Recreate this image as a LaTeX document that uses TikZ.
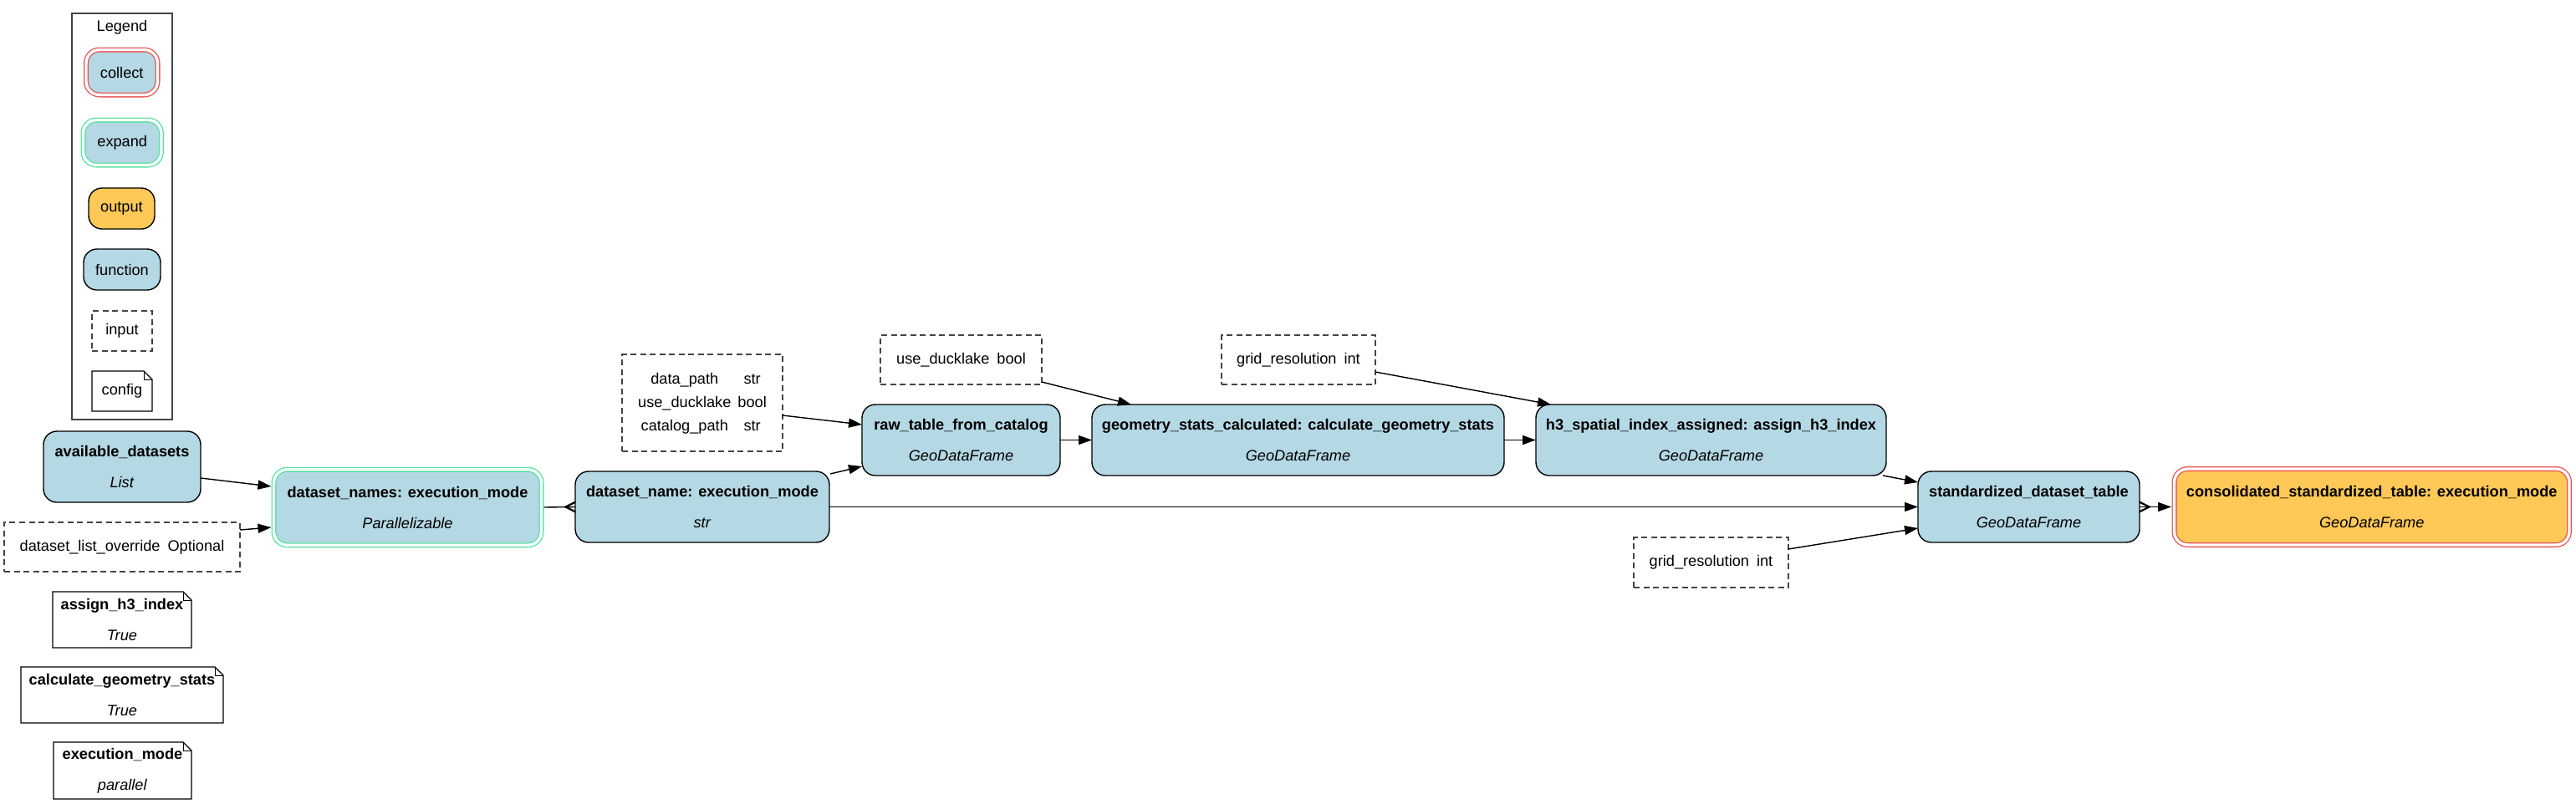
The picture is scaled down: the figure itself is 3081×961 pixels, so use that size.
\documentclass[tikz,border=0pt]{standalone}
\usepackage{fontspec}
\setmainfont{Liberation Sans}
\usetikzlibrary{arrows.meta,calc}
\definecolor{fnblue}{HTML}{B4D8E4}
\definecolor{outorange}{HTML}{FFC857}
\definecolor{colred}{HTML}{EA5556}
\definecolor{expgreen}{HTML}{56E39F}
\definecolor{framegray}{HTML}{444444}
\newcommand\cfgoutline[1]{%
  \draw[line width=1.3pt, line join=miter] (#1.south west) -- (#1.south east) -- ($(#1.north east)+(0,10)$) -- ($(#1.north east)+(-10,0)$) -- (#1.north west) -- cycle;
  \draw[line width=1pt] ($(#1.north east)+(-10,0)$) -- ($(#1.north east)+(-10,10)$) -- ($(#1.north east)+(0,10)$);}
\begin{document}
\begin{tikzpicture}[x=1pt,y=-1pt,
  every node/.style={font=\fontsize{18.2}{37}\selectfont, inner sep=0pt, outer sep=0pt, align=center},
  box/.style 2 args={minimum width=#1pt, minimum height=#2pt},
  fn/.style={draw=black, line width=1.4pt, fill=fnblue, rounded corners=16pt},
  outp/.style={fn, fill=outorange},
  expandnode/.style={fn, draw=expgreen, double=white, double distance=3.4pt, line width=1.3pt},
  collectnode/.style={fn, draw=colred, double=white, double distance=3.4pt, line width=1.3pt},
  inp/.style={draw=framegray, line width=1.2pt, dash pattern=on 7pt off 4.5pt},
  arr/.style={-{Triangle[length=16pt,width=11pt]}, line width=1.4pt},
]
\fill[white] (0,0) rectangle (3081,961);
\useasboundingbox (0,0) rectangle (3081,961);

% Legend
\node[draw=framegray, line width=1.3pt, box={120}{486}] (legend) at (146,259) {};
\node (legendtitle) at (146,33) {Legend};
\node[collectnode, box={85.5}{54}] (lgcollect) at (145.75,86.5) {collect};
\node[expandnode, box={93.5}{54}] (lgexpand) at (146.25,170.5) {expand};
\node[outp, box={79}{49}] (lgoutput) at (145.5,249.5) {output};
\node[fn, box={92}{49}] (lgfunction) at (146,322.5) {function};
\node[inp, box={72}{48}] (lginput) at (146,396) {input};
\node[box={72}{48}] (lgconfig) at (146,468) {config};
\cfgoutline{lgconfig}

% Left column
\node[fn, box={188}{85}] (avail) at (146,558.5) {\textbf{available\_datasets}\\\textit{List}};
\node[inp, box={282}{59}] (override) at (146,654.5) {dataset\_list\_override\hspace{9pt}Optional};
\node[box={166}{67}] (cfgh3) at (146,741.5) {\textbf{assign\_h3\_index}\\\textit{True}};
\cfgoutline{cfgh3}
\node[box={242}{67}] (cfggeo) at (146,831.5) {\textbf{calculate\_geometry\_stats}\\\textit{True}};
\cfgoutline{cfggeo}
\node[box={165}{68}] (cfgexec) at (146.5,922) {\textbf{execution\_mode}\\\textit{parallel}};
\cfgoutline{cfgexec}

% Main chain
\node[expandnode, box={320}{90.5}] (dsnames) at (487.5,607) {\textbf{dataset\_names: execution\_mode}\\\textit{Parallelizable}};
\node[fn, box={304}{85}] (dsname) at (840,606.5) {\textbf{dataset\_name: execution\_mode}\\\textit{str}};
\node[inp, box={192}{116}] (datapath) at (840,482) {\fontsize{18.2}{28}\selectfont\begin{tabular}{@{}c@{\hspace{8pt}}c@{}}data\_path & str\\ use\_ducklake & bool\\ catalog\_path & str\end{tabular}};
\node[inp, box={193}{59}] (usedl) at (1149.5,430.5) {use\_ducklake\hspace{9pt}bool};
\node[fn, box={237}{85}] (raw) at (1149.5,526.5) {\textbf{raw\_table\_from\_catalog}\\\textit{GeoDataFrame}};
\node[fn, box={493}{85}] (geo) at (1552.5,526.5) {\textbf{geometry\_stats\_calculated: calculate\_geometry\_stats}\\\textit{GeoDataFrame}};
\node[inp, box={184}{59}] (grida) at (1553,430.5) {grid\_resolution\hspace{9pt}int};
\node[fn, box={419}{85}] (h3) at (2046.5,526.5) {\textbf{h3\_spatial\_index\_assigned: assign\_h3\_index}\\\textit{GeoDataFrame}};
\node[fn, box={265}{85}] (std) at (2426.5,606.5) {\textbf{standardized\_dataset\_table}\\\textit{GeoDataFrame}};
\node[inp, box={185}{60}] (gridb) at (2046.5,673) {grid\_resolution\hspace{9pt}int};
\node[collectnode, fill=outorange, box={472.5}{91}] (cons) at (2836.75,606.5) {\textbf{consolidated\_standardized\_table: execution\_mode}\\\textit{GeoDataFrame}};

% Edges
\draw[arr] ($(avail.east)+(0,13.5)$) -- ($(dsnames.west)+(-3,-25)$);
\draw[arr] ($(override.north east)+(0,9)$) -- ($(dsnames.west)+(-3,24)$);
\draw[line width=1.4pt] ($(dsnames.east)+(3,0)$) -- (dsname.west);
\fill ($(dsname.west)+(-14,0)$) -- ($(dsname.west)+(0,-7)$) -- ($(dsname.west)+(0,-4.5)$) -- ($(dsname.west)+(-9,0)$) -- ($(dsname.west)+(0,4.5)$) -- ($(dsname.west)+(0,7)$) -- cycle;
\draw[arr] ($(dsname.north east)+(1,3)$) -- ($(raw.south west)+(0,-11)$);
\draw[arr] ($(datapath.east)+(0,15)$) -- ($(raw.west)+(0,-18.5)$);
\draw[arr] (raw.east) -- (geo.west);
\draw[arr] ($(usedl.south east)+(0,-3)$) -- ($(geo.north west)+(47,0)$);
\draw[arr] (geo.east) -- (h3.west);
\draw[arr] ($(grida.east)+(0,14.5)$) -- ($(h3.north west)+(18,0)$);
\draw[arr] ($(h3.south east)+(-4,0)$) -- ($(std.north west)+(0,13)$);
\draw[arr] (dsname.east) -- (std.west);
\draw[arr] ($(gridb.north east)+(0,14)$) -- ($(std.west)+(0,25.5)$);
\draw[arr] (std.east) -- ($(cons.west)+(-3.5,0)$);
\fill ($(std.east)+(14,0)$) -- ($(std.east)+(0,-7)$) -- ($(std.east)+(0,-4.5)$) -- ($(std.east)+(9,0)$) -- ($(std.east)+(0,4.5)$) -- ($(std.east)+(0,7)$) -- cycle;
\end{tikzpicture}
\end{document}
